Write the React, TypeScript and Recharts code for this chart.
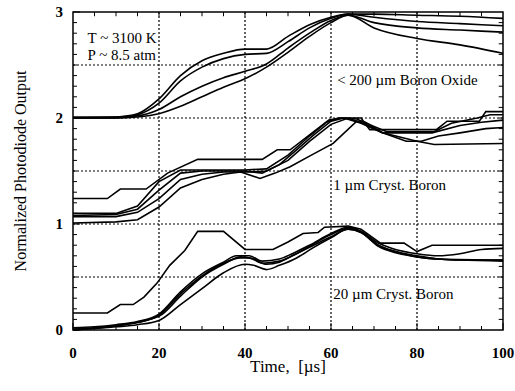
import React from "react";
import { LineChart, Line, XAxis, YAxis, ReferenceLine, ReferenceArea } from "recharts";

type Pt = [number, number];

// time [µs], normalized output — boron oxide (< 200 µm)
const oxideA: Pt[] = [[0, 2.0], [10, 2.01], [15, 2.04], [20, 2.18], [25, 2.4], [30, 2.54], [35, 2.61], [40, 2.65], [45, 2.65], [50, 2.77], [55, 2.88], [60, 2.95], [64, 2.98], [70, 2.98], [80, 2.97], [90, 2.96], [100, 2.94]];
const oxideB: Pt[] = [[0, 2.0], [10, 2.0], [15, 2.03], [20, 2.14], [25, 2.35], [30, 2.48], [35, 2.56], [40, 2.6], [45, 2.61], [50, 2.72], [55, 2.85], [60, 2.94], [64, 2.98], [70, 2.95], [80, 2.91], [90, 2.89], [100, 2.87]];
const oxideC: Pt[] = [[0, 2.01], [10, 2.01], [15, 2.02], [20, 2.08], [25, 2.2], [30, 2.3], [35, 2.38], [40, 2.44], [45, 2.51], [50, 2.66], [55, 2.8], [60, 2.92], [64, 2.97], [70, 2.9], [80, 2.85], [90, 2.83], [100, 2.81]];
const oxideD: Pt[] = [[0, 2.0], [10, 2.0], [15, 2.01], [20, 2.04], [25, 2.11], [30, 2.2], [35, 2.29], [40, 2.37], [45, 2.48], [50, 2.62], [55, 2.77], [60, 2.9], [64, 2.97], [70, 2.85], [80, 2.75], [90, 2.69], [100, 2.61]];

// 1 µm crystalline boron
const crystA: Pt[] = [[0, 1.24], [8, 1.24], [11, 1.33], [17, 1.33], [22, 1.48], [29, 1.61], [44, 1.61], [47.5, 1.7], [50.5, 1.7], [59.5, 1.98], [62, 2.0], [67, 2.0], [69, 1.89], [84.5, 1.89], [87, 1.97], [94.5, 1.97], [96, 2.06], [100, 2.06]];
const crystB: Pt[] = [[0, 1.1], [10, 1.1], [15, 1.17], [20, 1.4], [25, 1.51], [40, 1.51], [45, 1.52], [50, 1.65], [55, 1.83], [59, 1.96], [62, 2.0], [66, 1.99], [70, 1.92], [73, 1.87], [84, 1.87], [88, 1.95], [94, 2.0], [97, 2.03], [100, 2.03]];
const crystC: Pt[] = [[0, 1.08], [10, 1.09], [15, 1.14], [20, 1.32], [25, 1.48], [30, 1.5], [40, 1.5], [44, 1.48], [48, 1.56], [52, 1.7], [56, 1.84], [60, 1.97], [63, 2.0], [67, 1.95], [72, 1.86], [83.5, 1.86], [90, 1.93], [95, 1.96], [100, 1.98]];
const crystD: Pt[] = [[0, 1.07], [10, 1.07], [15, 1.11], [20, 1.24], [25, 1.42], [30, 1.47], [35, 1.49], [41, 1.49], [45, 1.5], [50, 1.6], [55, 1.78], [60, 1.94], [64, 2.0], [68, 1.94], [72, 1.86], [77.5, 1.78], [81, 1.78], [85, 1.83], [90, 1.86], [96, 1.9], [100, 1.91]];
const crystE: Pt[] = [[0, 1.01], [10, 1.02], [15, 1.04], [20, 1.16], [25, 1.34], [30, 1.42], [35, 1.47], [39, 1.49], [43.5, 1.43], [47, 1.48], [50.5, 1.54], [55, 1.64], [60.5, 1.76], [66, 1.97], [68, 1.96], [72, 1.86], [80, 1.78], [84, 1.75], [100, 1.76]];

// 20 µm crystalline boron
const boronA: Pt[] = [[0, 0.16], [8, 0.16], [11, 0.24], [14, 0.24], [16.5, 0.31], [19.5, 0.44], [22.5, 0.61], [26, 0.75], [29, 0.93], [35, 0.93], [40, 0.76], [46.5, 0.76], [50, 0.83], [53.5, 0.91], [57, 0.92], [58.5, 0.97], [64, 0.98], [67, 0.95], [71.5, 0.82], [77, 0.82], [80, 0.74], [83.5, 0.8], [100, 0.8]];
const boronB: Pt[] = [[0, 0.02], [5, 0.03], [10, 0.05], [15, 0.08], [20, 0.15], [25, 0.36], [30, 0.53], [35, 0.64], [38, 0.7], [41, 0.7], [44, 0.65], [48, 0.67], [51, 0.72], [55, 0.8], [60, 0.91], [64, 0.97], [67, 0.93], [71, 0.82], [75, 0.76], [80, 0.72], [85, 0.7], [90, 0.72], [95, 0.76], [100, 0.77]];
const boronC: Pt[] = [[0, 0.01], [10, 0.04], [15, 0.07], [20, 0.14], [25, 0.34], [30, 0.51], [35, 0.63], [39, 0.68], [41, 0.68], [44, 0.63], [48, 0.65], [51, 0.7], [55, 0.79], [60, 0.9], [64, 0.96], [67, 0.93], [71, 0.8], [75, 0.74], [80, 0.7], [85, 0.67], [90, 0.66], [100, 0.65]];
const boronD: Pt[] = [[0, 0.0], [10, 0.04], [20, 0.13], [25, 0.32], [30, 0.5], [35, 0.62], [39, 0.69], [42, 0.67], [45, 0.62], [48, 0.64], [51, 0.7], [55, 0.78], [60, 0.88], [64, 0.95], [67, 0.92], [71, 0.8], [75, 0.74], [80, 0.69], [85, 0.67], [90, 0.66], [100, 0.66]];
const boronE: Pt[] = [[0, 0.0], [10, 0.03], [15, 0.05], [20, 0.09], [25, 0.24], [30, 0.39], [35, 0.54], [40, 0.62], [42, 0.61], [45, 0.57], [48, 0.61], [52, 0.68], [56, 0.78], [60, 0.87], [64, 0.95], [67, 0.92], [71, 0.79], [75, 0.73], [80, 0.69], [85, 0.67], [100, 0.66]];

const xLabelTicks = [0, 20, 40, 60, 80, 100];
const yLabelTicks = [0, 1, 2, 3];
const gridX = [20, 40, 60, 80];
const gridY = [0.5, 1, 1.5, 2, 2.5];

const xMinor = Array.from({ length: 21 }, (_, i) => i * 5);
const yMinor = Array.from({ length: 31 }, (_, i) => i / 10);

const FONT = "Liberation Serif, Times New Roman, serif";
const serif = { fontFamily: FONT };

const series: { id: string; pts: Pt[]; curve: "monotone" | "linear" }[] = [
  { id: "oxideA", pts: oxideA, curve: "monotone" },
  { id: "oxideB", pts: oxideB, curve: "monotone" },
  { id: "oxideC", pts: oxideC, curve: "monotone" },
  { id: "oxideD", pts: oxideD, curve: "monotone" },
  { id: "crystA", pts: crystA, curve: "linear" },
  { id: "crystB", pts: crystB, curve: "linear" },
  { id: "crystC", pts: crystC, curve: "linear" },
  { id: "crystD", pts: crystD, curve: "linear" },
  { id: "crystE", pts: crystE, curve: "linear" },
  { id: "boronA", pts: boronA, curve: "linear" },
  { id: "boronB", pts: boronB, curve: "monotone" },
  { id: "boronC", pts: boronC, curve: "monotone" },
  { id: "boronD", pts: boronD, curve: "monotone" },
  { id: "boronE", pts: boronE, curve: "monotone" },
];

const toRows = (pts: Pt[]) => pts.map(([t, v]) => ({ t, v }));

const BottomTick = ({ x, y, payload }: any) => {
  const major = xLabelTicks.includes(payload.value);
  return (
    <g>
      <line x1={x} x2={x} y1={y} y2={y - (major ? 7 : 4)} stroke="#000" />
      {major && (
        <text x={x} y={y + 28} textAnchor="middle" style={serif} fontWeight="bold" fontSize={15} fill="#000">
          {payload.value}
        </text>
      )}
    </g>
  );
};

const LeftTick = ({ x, y, payload }: any) => {
  const v = payload.value;
  const major = yLabelTicks.some((t) => Math.abs(t - v) < 1e-6);
  return (
    <g>
      <line x1={x} x2={x + (major ? 7 : 4)} y1={y} y2={y} stroke="#000" />
      {major && (
        <text x={x - 10} y={y + 5} textAnchor="end" style={serif} fontWeight="bold" fontSize={15} fill="#000">
          {Math.round(v)}
        </text>
      )}
    </g>
  );
};

const noteStyle = { fontSize: 15, fill: "#000", style: serif };

export default function App() {
  return (
    <div style={{ position: "absolute", left: 0, top: 0, background: "#fff", fontFamily: FONT }}>
      <LineChart width={515} height={391} margin={{ top: 12, right: 12, bottom: 31, left: 33 }} style={serif}>
        <XAxis
          dataKey="t"
          type="number"
          domain={[0, 100]}
          ticks={xMinor}
          interval={0}
          height={30}
          axisLine={false}
          tickLine={false}
          tickSize={0}
          tickMargin={0}
          tick={<BottomTick />}
          label={{
            content: (p: any) => {
              const vb = p.viewBox;
              return (
                <text x={vb.x + vb.width / 2} y={vb.y + 42} textAnchor="middle" style={serif} fontSize={17} fill="#000">
                  Time,{"\u00a0"} [µs]
                </text>
              );
            },
          }}
        />
        <YAxis
          type="number"
          domain={[0, 3]}
          ticks={yMinor}
          interval={0}
          width={40}
          axisLine={false}
          tickLine={false}
          tickSize={0}
          tickMargin={0}
          tick={<LeftTick />}
          label={{
            content: (p: any) => {
              const vb = p.viewBox;
              const cx = vb.x - 13;
              const cy = vb.y + vb.height / 2;
              return (
                <text
                  x={cx}
                  y={cy}
                  transform={`rotate(-90 ${cx} ${cy})`}
                  textAnchor="middle"
                  dominantBaseline="central"
                  style={serif}
                  fontSize={16}
                  fill="#000"
                >
                  Normalized Photodiode Output
                </text>
              );
            },
          }}
        />

        {/* dotted grid */}
        {gridX.map((v) => (
          <ReferenceLine key={`gx${v}`} x={v} stroke="#000" strokeWidth={1.2} strokeDasharray="2 2" />
        ))}
        {gridY.map((v) => (
          <ReferenceLine key={`gy${v}`} y={v} stroke="#000" strokeWidth={1.2} strokeDasharray="2 2" />
        ))}

        {/* inward ticks on the top and right edges */}
        {xMinor.filter((v) => v > 0 && v < 100).map((v) => (
          <ReferenceLine key={`tt${v}`} segment={[{ x: v, y: 3 }, { x: v, y: 2.96 }]} stroke="#000" />
        ))}
        {yMinor.filter((v) => v > 0.01 && v < 2.99).map((v) => (
          <ReferenceLine key={`rt${v}`} segment={[{ x: 100, y: v }, { x: 99, y: v }]} stroke="#000" />
        ))}

        {/* group captions, on white so the grid stops behind them */}
        <ReferenceArea x1={61.2} x2={97.5} y1={2.25} y2={2.47} fill="#fff" fillOpacity={1} stroke="none"
          label={{ value: "< 200 µm Boron Oxide", position: "insideLeft", offset: 1, ...noteStyle }} />
        <ReferenceArea x1={60.3} x2={89} y1={1.24} y2={1.51} fill="#fff" fillOpacity={1} stroke="none"
          label={{ value: "1 µm Cryst. Boron", position: "insideLeft", offset: 1, ...noteStyle }} />
        <ReferenceArea x1={60.3} x2={90.8} y1={0.23} y2={0.45} fill="#fff" fillOpacity={1} stroke="none"
          label={{ value: "20 µm Cryst. Boron", position: "insideLeft", offset: 1, ...noteStyle }} />
        <ReferenceArea x1={3.4} x2={17} y1={2.72} y2={2.79} fill="none" stroke="none"
          label={{ value: "T ~ 3100 K", position: "insideLeft", offset: 0, ...noteStyle }} />
        <ReferenceArea x1={3.4} x2={17} y1={2.56} y2={2.63} fill="none" stroke="none"
          label={{ value: "P ~ 8.5 atm", position: "insideLeft", offset: 0, ...noteStyle }} />

        {series.map((s) => (
          <Line
            key={s.id}
            data={toRows(s.pts)}
            dataKey="v"
            type={s.curve}
            stroke="#000"
            strokeWidth={1.6}
            dot={false}
            activeDot={false}
            isAnimationActive={false}
          />
        ))}

        {/* plot frame */}
        <ReferenceArea x1={0} x2={100} y1={0} y2={3} fill="none" stroke="#000" strokeWidth={1.5} />
      </LineChart>
    </div>
  );
}
